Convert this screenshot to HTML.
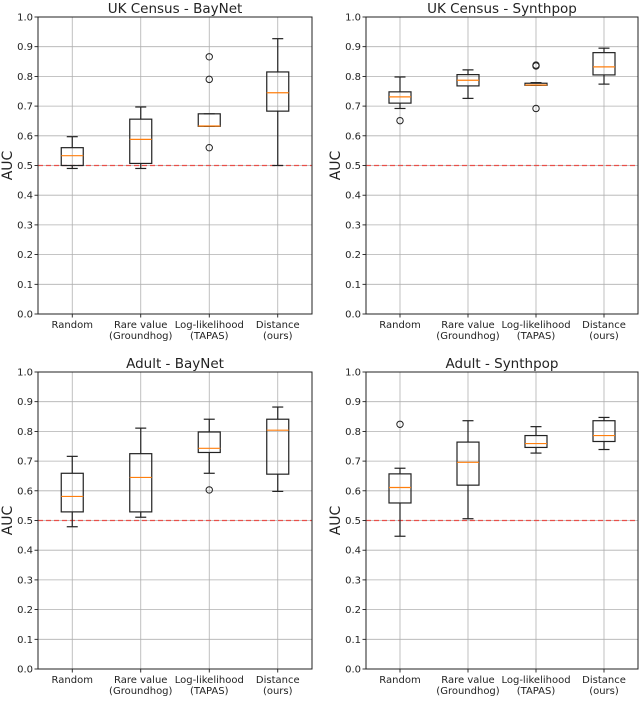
<!DOCTYPE html>
<html><head><meta charset="utf-8"><style>
body{margin:0;background:#fff;width:640px;height:697px;overflow:hidden}
svg text{font-family:"DejaVu Sans","Liberation Sans",sans-serif;fill:#222}
</style></head><body>
<svg id="chart" width="640" height="697"></svg>
<script>
const categories=["Random","Rare value|(Groundhog)","Log-likelihood|(TAPAS)","Distance|(ours)"];
const yTicks=[0,0.1,0.2,0.3,0.4,0.5,0.6,0.7,0.8,0.9,1.0];
const titles=["UK Census - BayNet","UK Census - Synthpop","Adult - BayNet","Adult - Synthpop"];
// each box: [whiskerLow, q1, median, q3, whiskerHigh]
const ukBayNet=[[0.49,0.50,0.533,0.56,0.597],[0.49,0.507,0.588,0.656,0.697],[0.632,0.632,0.633,0.674,0.674],[0.50,0.683,0.745,0.815,0.927]];
const ukBayNetOut=[[],[],[0.866,0.79,0.56],[]];
const ukSynth=[[0.692,0.71,0.731,0.748,0.798],[0.726,0.768,0.787,0.806,0.822],[0.77,0.77,0.771,0.777,0.779],[0.774,0.805,0.832,0.88,0.895]];
const ukSynthOut=[[0.651],[],[0.838,0.835,0.692],[]];
const adBayNet=[[0.479,0.529,0.581,0.659,0.716],[0.511,0.529,0.645,0.725,0.811],[0.659,0.729,0.743,0.798,0.841],[0.598,0.656,0.804,0.841,0.882]];
const adBayNetOut=[[],[],[0.603],[]];
const adSynth=[[0.447,0.559,0.611,0.657,0.676],[0.506,0.619,0.696,0.764,0.836],[0.727,0.746,0.759,0.786,0.816],[0.739,0.766,0.786,0.836,0.847]];
const adSynthOut=[[0.824],[],[],[]];
const refLine=0.5;

const panels=[
 {x0:38,x1:312,y0:17,y1:314,box:ukBayNet,out:ukBayNetOut},
 {x0:366,x1:638,y0:17,y1:314,box:ukSynth,out:ukSynthOut},
 {x0:38,x1:312,y0:372,y1:669,box:adBayNet,out:adBayNetOut},
 {x0:366,x1:638,y0:372,y1:669,box:adSynth,out:adSynthOut}];
const svg=document.getElementById('chart');
const NS="http://www.w3.org/2000/svg";
function mk(tag,attrs,parent){const e=document.createElementNS(NS,tag);for(const k in attrs)e.setAttribute(k,attrs[k]);(parent||svg).appendChild(e);return e;}
panels.forEach((p,pi)=>{
 const g=mk('g',{});
 
 
 const ys=v=>p.y1-(v)*(p.y1-p.y0);
 const step=(p.x1-p.x0)/4;
 const xs=i=>p.x0+step*(i+0.5);
 yTicks.forEach(t=>{
  const l=mk('line',{x1:p.x0,x2:p.x1,y1:ys(t),y2:ys(t),stroke:'#b0b0b0','stroke-width':0.8},g);
  
  
  mk('line',{x1:p.x0-3.5,x2:p.x0,y1:ys(t),y2:ys(t),stroke:'#000','stroke-width':0.8},g);
  const tx=mk('text',{x:p.x0-5,y:ys(t)+3.5,'text-anchor':'end','font-size':10},g);
  tx.textContent=t.toFixed(1);
  
  
 });
 categories.forEach((c,i)=>{
  mk('line',{x1:xs(i),x2:xs(i),y1:p.y0,y2:p.y1,stroke:'#b0b0b0','stroke-width':0.8},g);
  mk('line',{x1:xs(i),x2:xs(i),y1:p.y1,y2:p.y1+3.5,stroke:'#000','stroke-width':0.8},g);
  c.split('|').forEach((ln,j)=>{
   const tx=mk('text',{x:xs(i),y:p.y1+14+j*11,'text-anchor':'middle','font-size':10},g);
   tx.textContent=ln;
   
   
  });
 });
 const rl=mk('line',{x1:p.x0,x2:p.x1,y1:ys(refLine),y2:ys(refLine),stroke:'#e8504a','stroke-width':1.2,'stroke-dasharray':'5,3'},g);
 
 
 p.box.forEach((b,i)=>{
  const x=xs(i),hw=11,cw=5.5;
  const bg=mk('g',{},g);
  
  
  const st={stroke:'#222','stroke-width':1.2,fill:'none'};
  mk('line',Object.assign({x1:x,x2:x,y1:ys(b[0]),y2:ys(b[1])},st),bg);
  mk('line',Object.assign({x1:x,x2:x,y1:ys(b[3]),y2:ys(b[4])},st),bg);
  mk('line',Object.assign({x1:x-cw,x2:x+cw,y1:ys(b[0]),y2:ys(b[0])},st),bg);
  mk('line',Object.assign({x1:x-cw,x2:x+cw,y1:ys(b[4]),y2:ys(b[4])},st),bg);
  mk('rect',Object.assign({x:x-hw,y:ys(b[3]),width:2*hw,height:Math.max(ys(b[1])-ys(b[3]),0.5)},st),bg);
  mk('line',{x1:x-hw,x2:x+hw,y1:ys(b[2]),y2:ys(b[2]),stroke:'#ff7f0e','stroke-width':1.2},bg);
  p.out[i].forEach(o=>{
   const c=mk('circle',{cx:x,cy:ys(o),r:3.2,fill:'none',stroke:'#222','stroke-width':1},bg);
   
   
  });
 });
 const fr=mk('rect',{x:p.x0,y:p.y0,width:p.x1-p.x0,height:p.y1-p.y0,fill:'none',stroke:'#222','stroke-width':1},g);
 
 
 const tt=mk('text',{x:(p.x0+p.x1)/2,y:p.y0-4,'text-anchor':'middle','font-size':13.5},g);
 tt.textContent=titles[pi];
 
 
 const yl=mk('text',{x:0,y:0,'text-anchor':'middle','font-size':14,transform:`translate(${p.x0-26},${(p.y0+p.y1)/2}) rotate(-90)`},g);
 yl.textContent='AUC';
 
 
});
</script>
</body></html>
